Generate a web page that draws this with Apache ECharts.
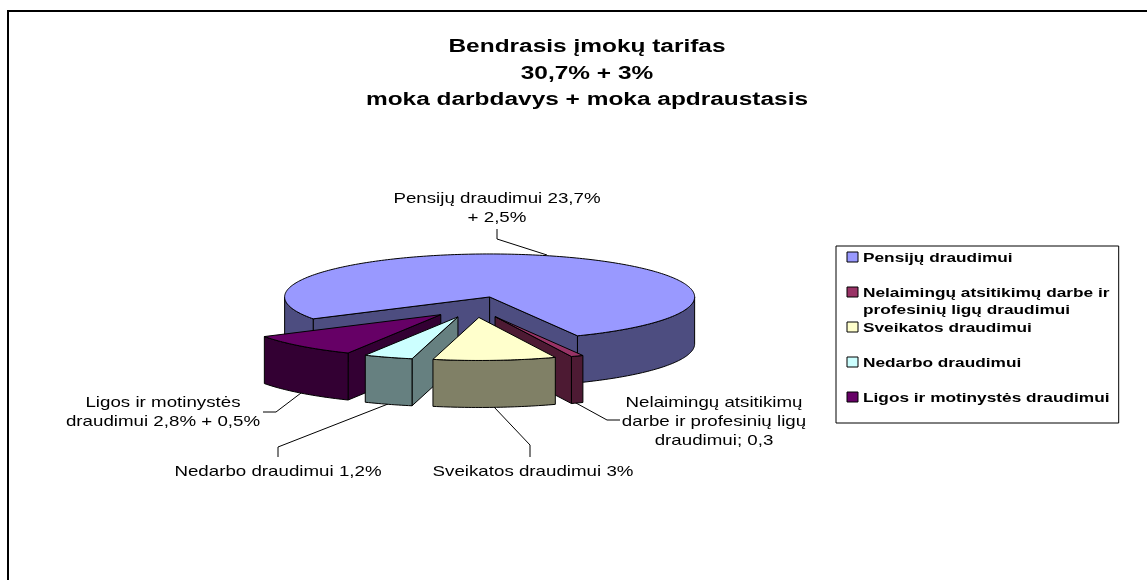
<!DOCTYPE html>
<html>
<head>
	<meta charset="utf-8">
	<title>Bendrasis įmokų tarifas</title>
	<style type="text/css">
		html,body{
			margin:0;
			background:#fff;
		}
	</style>
</head>
<body>
<div id="main" style="width: 1147px;height: 580px"></div>
<script type="text/javascript" src="https://cdn.jsdelivr.net/npm/echarts@6/dist/echarts.min.js"></script>
<script type="text/javascript">
	// values in pie order, clockwise
	var categories = ['Pensijų draudimui','Nelaimingų atsitikimų darbe ir\nprofesinių ligų draudimui','Sveikatos draudimui','Nedarbo draudimui','Ligos ir motinystės draudimui'];
	var values = [23.7,0.3,3,1.2,2.8];
	var pointLabels = ['Pensijų draudimui 23,7%\n+ 2,5%','Nelaimingų atsitikimų\ndarbe ir profesinių ligų\ndraudimui; 0,3','Sveikatos draudimui 3%','Nedarbo draudimui 1,2%','Ligos ir motinystės\ndraudimui 2,8% + 0,5%'];
	var titleText = 'Bendrasis įmokų tarifas\n30,7% + 3%\nmoka darbdavys + moka apdraustasis';

	var topColors = ['#9999FF','#993366','#FFFFCC','#CCFFFF','#660066'];
	var sideColors = ['#4D4D80','#4D1A33','#808066','#668080','#330033'];

	// pie geometry
	var pie = {cx:475,cy:307,rx:205,ry:43,depth:47,explodeX:50,explodeY:10.5,start:149.4};
	var fontName = '"Liberation Sans",Arial,sans-serif';
	// the original picture is stretched sideways, so all text is too
	var stretch = 1.31;

	// label and leader placement, same order as categories
	var labelPos = [[497,209],[714,422],[533,472],[278,472],[163,413]];
	var leaders = [
		[[497,229],[497,239],[547,255]],
		[[576,403],[607,420],[620,420]],
		[[494,407],[530,445],[530,457]],
		[[388,404],[278,447],[278,457]],
		[[301,393],[276,412],[263,412]]
	];
	// legend text rows, first line of each entry
	var legendTextY = [258,293,328,363,398];

	function total(){
		var s = 0;
		for(var i=0;i<values.length;i++){
			s += values[i];
		}
		return s;
	}

	function arcPoints(ox,oy,a0,a1,dy){
		var pts = [];
		var n = Math.max(2,Math.ceil(Math.abs(a1-a0)));
		for(var i=0;i<=n;i++){
			var a = (a0+(a1-a0)*i/n)*Math.PI/180;
			pts.push([ox+pie.rx*Math.cos(a),oy+dy+pie.ry*Math.sin(a)]);
		}
		return pts;
	}

	function poly(points,fill){
		return {
			type:'polygon',
			shape:{points:points},
			style:{fill:fill,stroke:'#000',lineWidth:1,lineJoin:'round'}
		};
	}

	function radialFace(ox,oy,angle,fill){
		var rim = arcPoints(ox,oy,angle,angle,0)[0];
		return poly([[ox,oy],rim,[rim[0],rim[1]+pie.depth],[ox,oy+pie.depth]],fill);
	}

	function wallFace(ox,oy,a0,a1,fill){
		var upper = arcPoints(ox,oy,a0,a1,0);
		var lower = arcPoints(ox,oy,a0,a1,pie.depth).reverse();
		return poly(upper.concat(lower),fill);
	}

	// draws one wedge of the pie from its value
	function renderSlice(index){
		return function(params,api){
			var before = 0;
			for(var i=0;i<index;i++){
				before += values[i];
			}
			var sum = total();
			var a0 = pie.start+before/sum*360;
			var a1 = a0+api.value(0)/sum*360;
			var mid = (a0+a1)/2*Math.PI/180;
			var ox = pie.cx+pie.explodeX*Math.cos(mid);
			var oy = pie.cy+pie.explodeY*Math.sin(mid);
			var children = [];

			// only the cut faces turned to the viewer
			if(Math.cos(a0*Math.PI/180)<0){
				children.push(radialFace(ox,oy,a0,sideColors[index]));
			}
			if(Math.cos(a1*Math.PI/180)>0){
				children.push(radialFace(ox,oy,a1,sideColors[index]));
			}
			// outer wall, front half only (0-180 and 360-540)
			var fronts = [[0,180],[360,540]];
			for(var j=0;j<fronts.length;j++){
				var from = Math.max(a0,fronts[j][0]);
				var to = Math.min(a1,fronts[j][1]);
				if(to>from){
					children.push(wallFace(ox,oy,from,to,sideColors[index]));
				}
			}
			children.push(poly([[ox,oy]].concat(arcPoints(ox,oy,a0,a1,0)),topColors[index]));
			return {type:'group',children:children};
		};
	}

	// back to front
	var drawOrder = [0,4,1,3,2];
	var series = [];
	for(var k=0;k<drawOrder.length;k++){
		var idx = drawOrder[k];
		series.push({
			type:'custom',
			name:categories[idx],
			coordinateSystem:'none',
			silent:true,
			itemStyle:{color:topColors[idx]},
			data:[[values[idx]]],
			renderItem:renderSlice(idx)
		});
	}

	function stretchedText(text,x,y,font,align,lineHeight,scale){
		return {
			type:'text',
			x:x,y:y,
			scaleX:scale,
			style:{
				text:text,
				x:0,y:0,
				align:align,verticalAlign:'middle',
				font:font,
				lineHeight:lineHeight,
				fill:'#000'
			}
		};
	}

	var graphic = [{
		type:'rect',
		shape:{x:8,y:11,width:1300,height:800},
		style:{fill:'none',stroke:'#000',lineWidth:2},
		z:-1
	}];
	graphic.push(stretchedText(titleText,587,73.5,'bold 18.67px '+fontName,'center',26.5,stretch));
	for(var m=0;m<pointLabels.length;m++){
		graphic.push(stretchedText(pointLabels[m],labelPos[m][0],labelPos[m][1],'14.3px '+fontName,'center',19,stretch));
		graphic.push({
			type:'polyline',
			shape:{points:leaders[m]},
			style:{fill:'none',stroke:'#000',lineWidth:1}
		});
	}
	for(var n=0;n<categories.length;n++){
		graphic.push(stretchedText(categories[n].split('\n')[0],863,legendTextY[n],'bold 13.33px '+fontName,'left',15,1.295));
	}
	graphic.push(stretchedText(categories[1].split('\n')[1],863,310,'bold 13.33px '+fontName,'left',15,1.295));

	var myChart = echarts.init(document.getElementById('main'));

	var option = {
		backgroundColor:'#fff',
		animation:false,
		// swatches and box only, the names are stretched text in graphic
		legend:{
			orient:'vertical',
			left:836,
			top:246,
			padding:[3.5,252,18.5,10.5],
			itemGap:20,
			itemWidth:11,
			itemHeight:10,
			icon:'rect',
			borderColor:'#000',
			borderWidth:1,
			itemStyle:{borderColor:'#000',borderWidth:1},
			selectedMode:false,
			data:categories,
			formatter:function(){
				return ' ';
			},
			textStyle:{
				fontFamily:fontName,
				fontSize:13.33,
				lineHeight:15
			}
		},
		graphic:graphic,
		series:series
	};

	myChart.setOption(option);
</script>
</body>
</html>
